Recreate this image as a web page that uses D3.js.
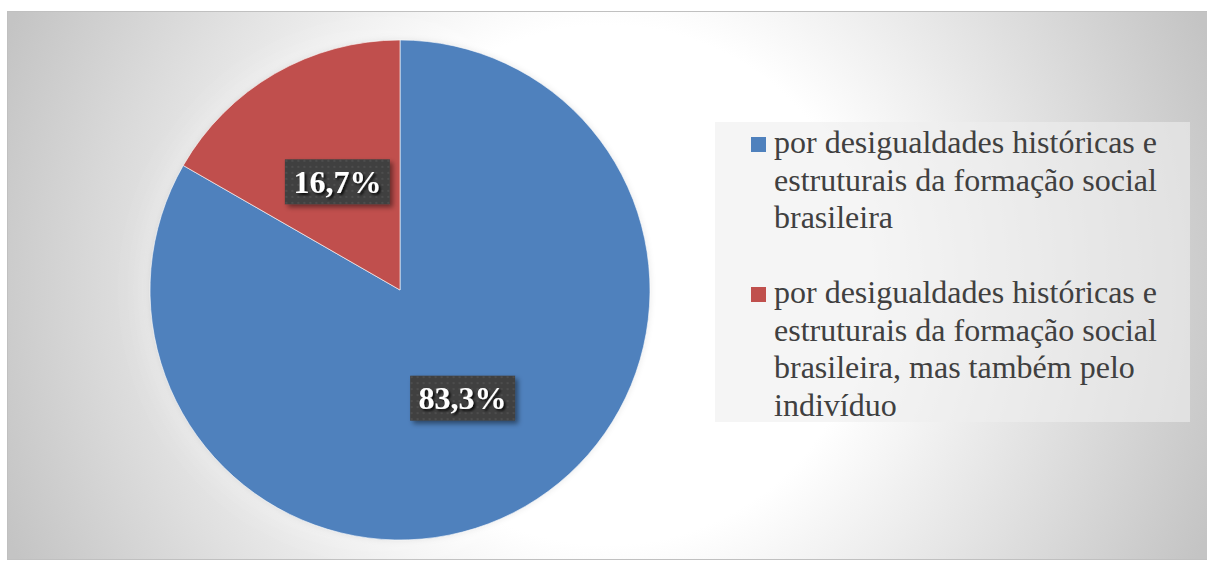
<!DOCTYPE html>
<html>
<head>
<meta charset="utf-8">
<script src="https://cdn.jsdelivr.net/npm/d3@7"></script>
<style>
  body { margin: 0; background: #fff; }
  svg { display: block; }
</style>
</head>
<body>
<div id="chart"></div>
<script>
// Data
const categories = [
    "por desigualdades históricas e estruturais da formação social brasileira",
    "por desigualdades históricas e estruturais da formação social brasileira, mas também pelo indivíduo"
];
const values = [83.3, 16.7];
const labels = ["83,3%", "16,7%"];
const colors = ["#4f81bd", "#c0504d"];

const width = 1207, height = 561;
const cx = 400, cy = 290, radius = 250;
const serif = "'Liberation Serif', 'Times New Roman', serif";

const svg = d3.select("#chart")
    .append("svg")
    .attr("width", width)
    .attr("height", height);

const defs = svg.append("defs");

// Background radial gradient
const bg = defs.append("radialGradient")
    .attr("id", "bg")
    .attr("gradientUnits", "userSpaceOnUse")
    .attr("cx", 607).attr("cy", 285).attr("r", 650);
bg.append("stop").attr("offset", 0).attr("stop-color", "#ffffff");
bg.append("stop").attr("offset", 0.4).attr("stop-color", "#ffffff");
bg.append("stop").attr("offset", 1).attr("stop-color", "#c4c4c4");

// Pie glow / shadow
const pf = defs.append("filter").attr("id", "pieShadow")
    .attr("x", "-20%").attr("y", "-20%").attr("width", "140%").attr("height", "140%");
pf.append("feGaussianBlur").attr("in", "SourceAlpha").attr("stdDeviation", 18).attr("result", "b1");
pf.append("feFlood").attr("flood-color", "#ffffff").attr("flood-opacity", 0.45).attr("result", "f1");
pf.append("feComposite").attr("in", "f1").attr("in2", "b1").attr("operator", "in").attr("result", "glow");
pf.append("feGaussianBlur").attr("in", "SourceAlpha").attr("stdDeviation", 3).attr("result", "b2");
pf.append("feFlood").attr("flood-color", "#000000").attr("flood-opacity", 0.18).attr("result", "f2");
pf.append("feComposite").attr("in", "f2").attr("in2", "b2").attr("operator", "in").attr("result", "shade");
const pm = pf.append("feMerge");
pm.append("feMergeNode").attr("in", "glow");
pm.append("feMergeNode").attr("in", "shade");
pm.append("feMergeNode").attr("in", "SourceGraphic");

// Label box shadow
const lf = defs.append("filter").attr("id", "boxShadow")
    .attr("x", "-20%").attr("y", "-30%").attr("width", "150%").attr("height", "170%");
lf.append("feGaussianBlur").attr("in", "SourceAlpha").attr("stdDeviation", 2.5).attr("result", "b");
lf.append("feOffset").attr("in", "b").attr("dx", 3).attr("dy", 3).attr("result", "o");
lf.append("feFlood").attr("flood-color", "#000").attr("flood-opacity", 0.45).attr("result", "c");
lf.append("feComposite").attr("in", "c").attr("in2", "o").attr("operator", "in").attr("result", "s");
const lm = lf.append("feMerge");
lm.append("feMergeNode").attr("in", "s");
lm.append("feMergeNode").attr("in", "SourceGraphic");

// Text shadow
const tf = defs.append("filter").attr("id", "textShadow")
    .attr("x", "-20%").attr("y", "-30%").attr("width", "150%").attr("height", "170%");
tf.append("feGaussianBlur").attr("in", "SourceAlpha").attr("stdDeviation", 1.2).attr("result", "b");
tf.append("feOffset").attr("in", "b").attr("dx", 2).attr("dy", 2).attr("result", "o");
tf.append("feFlood").attr("flood-color", "#000").attr("flood-opacity", 0.8).attr("result", "c");
tf.append("feComposite").attr("in", "c").attr("in2", "o").attr("operator", "in").attr("result", "s");
const tm = tf.append("feMerge");
tm.append("feMergeNode").attr("in", "s");
tm.append("feMergeNode").attr("in", "SourceGraphic");

// Dotted fill for the label boxes
const pat = defs.append("pattern")
    .attr("id", "dots")
    .attr("patternUnits", "userSpaceOnUse")
    .attr("width", 6).attr("height", 6);
pat.append("rect").attr("width", 6).attr("height", 6).attr("fill", "#404040");
pat.append("rect").attr("x", 2).attr("y", 2).attr("width", 2).attr("height", 2).attr("fill", "#4d4d4d");

// Chart area
svg.append("rect")
    .attr("x", 7.5).attr("y", 11.5)
    .attr("width", 1205).attr("height", 548)
    .attr("fill", "url(#bg)")
    .attr("stroke", "#c0c0c0")
    .attr("stroke-width", 1);

// Pie
const pie = d3.pie().sort(null).value(d => d);
const arc = d3.arc().innerRadius(0).outerRadius(radius);
const arcs = pie(values);

const g = svg.append("g").attr("transform", `translate(${cx},${cy})`);

g.append("g")
    .attr("filter", "url(#pieShadow)")
    .selectAll("path")
    .data(arcs)
    .enter()
    .append("path")
    .attr("d", arc)
    .attr("fill", (d, i) => colors[i])
    .attr("stroke", "#ffffff")
    .attr("stroke-opacity", 0.6)
    .attr("stroke-width", 1);

// Data labels
const boxW = 105, boxH = 45;
const lab = g.selectAll(".label")
    .data(arcs)
    .enter()
    .append("g")
    .attr("class", "label")
    .attr("transform", d => `translate(${arc.centroid(d)})`);

lab.append("rect")
    .attr("x", -boxW / 2).attr("y", -boxH / 2)
    .attr("width", boxW).attr("height", boxH)
    .attr("fill", "url(#dots)")
    .attr("filter", "url(#boxShadow)");

lab.append("text")
    .attr("text-anchor", "middle")
    .attr("y", 11)
    .style("font-family", serif)
    .attr("font-weight", "bold")
    .attr("font-size", 32)
    .attr("fill", "#ffffff")
    .attr("filter", "url(#textShadow)")
    .text((d, i) => labels[i]);

// Legend
const legend = svg.append("g");
legend.append("rect")
    .attr("x", 715).attr("y", 122)
    .attr("width", 475).attr("height", 300)
    .attr("fill", "#eeeeee")
    .attr("fill-opacity", 0.6);

const lineH = 37.5;
const itemTop = [153, 303];

function wrap(textSel, str, maxW) {
    const words = str.split(" ");
    let line = [];
    let tspan = textSel.append("tspan").attr("x", 774).attr("dy", 0);
    words.forEach(w => {
        line.push(w);
        tspan.text(line.join(" "));
        if (tspan.node().getComputedTextLength() > maxW && line.length > 1) {
            line.pop();
            tspan.text(line.join(" "));
            line = [w];
            tspan = textSel.append("tspan").attr("x", 774).attr("dy", lineH).text(w);
        }
    });
}

categories.forEach((c, i) => {
    legend.append("rect")
        .attr("x", 751).attr("y", itemTop[i] - 16)
        .attr("width", 15).attr("height", 15)
        .attr("fill", colors[i]);
    const t = legend.append("text")
        .attr("x", 774).attr("y", itemTop[i])
        .style("font-family", serif)
        .attr("font-size", 32)
        .attr("fill", "#404040");
    wrap(t, c, 400);
});
</script>
</body>
</html>
